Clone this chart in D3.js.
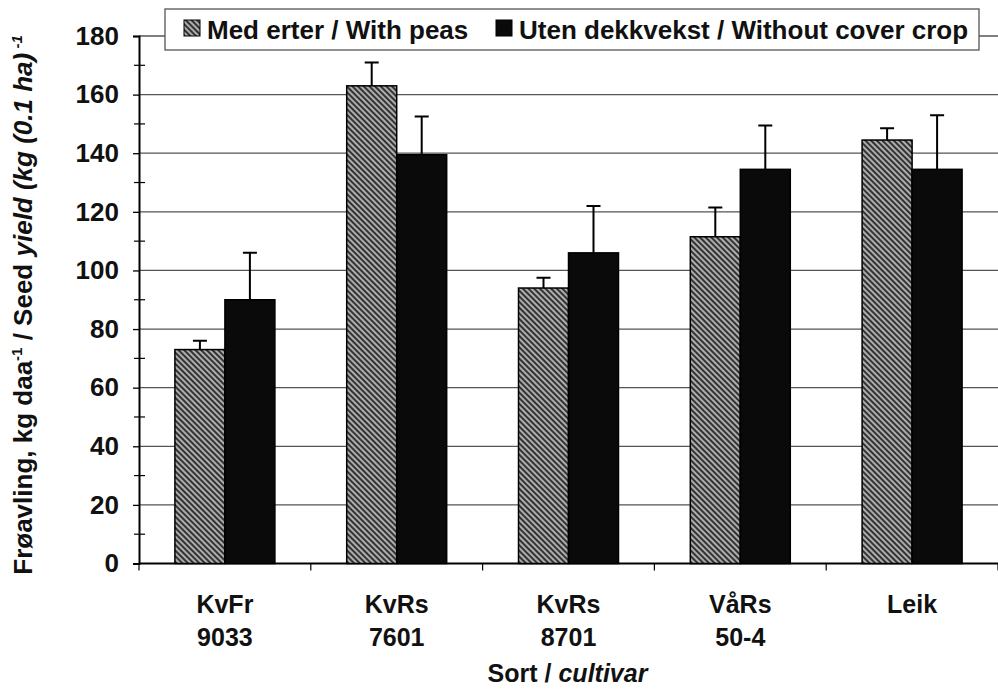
<!DOCTYPE html>
<html>
<head>
<meta charset="utf-8">
<script src="https://cdn.jsdelivr.net/npm/d3@7"></script>
<style>
  body { margin: 0; background: #fff; }
  svg { display: block; font-family: "Liberation Sans", Arial, sans-serif; font-weight: bold; }
</style>
</head>
<body>
<div id="chart"></div>
<script>
// Cultivars (two-line labels)
const cultivars = ["KvFr 9033", "KvRs 7601", "KvRs 8701", "VåRs 50-4", "Leik"];
const labelLine1 = ["KvFr", "KvRs", "KvRs", "VåRs", "Leik"];
const labelLine2 = ["9033", "7601", "8701", "50-4", ""];

const seriesNames = ["Med erter / With peas", "Uten dekkvekst / Without cover crop"];
const withPeas = [73, 163, 94, 111.5, 144.5];
const withPeasErr = [3, 8, 3.5, 10, 4];
const noCover = [90, 139.5, 106, 134.5, 134.5];
const noCoverErr = [16, 13, 16, 15, 18.5];

const yTicks = [0, 20, 40, 60, 80, 100, 120, 140, 160, 180];

const width = 998, height = 690;
const plotLeft = 139, plotRight = 998, plotTop = 36, plotBottom = 563.5;

const data = cultivars.map((c, i) => ({
    cultivar: c,
    values: [
        {key: seriesNames[0], value: withPeas[i], err: withPeasErr[i]},
        {key: seriesNames[1], value: noCover[i], err: noCoverErr[i]}
    ]
}));

const svg = d3.select("#chart").append("svg")
    .attr("width", width)
    .attr("height", height);

// Hatch pattern for "with peas" (lines running top-left to bottom-right)
const defs = svg.append("defs");
const pat = defs.append("pattern")
    .attr("id", "hatch")
    .attr("patternUnits", "userSpaceOnUse")
    .attr("width", 4)
    .attr("height", 4)
    .attr("patternTransform", "rotate(45)");
pat.append("rect").attr("width", 4).attr("height", 4).attr("fill", "#adadad");
pat.append("rect").attr("width", 4).attr("height", 2).attr("fill", "#333");

const x0 = d3.scaleBand()
    .domain(cultivars)
    .range([plotLeft, plotRight])
    .paddingInner(0.418)
    .paddingOuter(0.209);

const x1 = d3.scaleBand()
    .domain(seriesNames)
    .range([0, x0.bandwidth()]);

const y = d3.scaleLinear()
    .domain([0, 180])
    .range([plotBottom, plotTop]);

const fill = d3.scaleOrdinal()
    .domain(seriesNames)
    .range(["url(#hatch)", "#0a0a0a"]);

// Gridlines
svg.append("g")
    .selectAll("line")
    .data(yTicks.filter(d => d > 0))
    .join("line")
    .attr("x1", plotLeft)
    .attr("x2", plotRight)
    .attr("y1", d => y(d))
    .attr("y2", d => y(d))
    .attr("stroke", "#555")
    .attr("stroke-width", 1.3);

// Y axis
const yAxis = svg.append("g")
    .attr("transform", `translate(${plotLeft},0)`)
    .call(d3.axisLeft(y).tickValues(yTicks).tickSize(6).tickPadding(14));
yAxis.select(".domain").attr("stroke", "#000").attr("stroke-width", 2);
yAxis.selectAll(".tick line").attr("stroke", "#000").attr("stroke-width", 1.3);
yAxis.selectAll(".tick text")
    .attr("font-size", 26)
    .attr("font-weight", "bold")
    .attr("font-family", "Liberation Sans, Arial, sans-serif")
    .attr("fill", "#111");

// Minor ticks (cross)
svg.append("g")
    .selectAll("line")
    .data(d3.range(10, 180, 20))
    .join("line")
    .attr("x1", plotLeft - 5)
    .attr("x2", plotLeft + 6)
    .attr("y1", d => y(d))
    .attr("y2", d => y(d))
    .attr("stroke", "#000")
    .attr("stroke-width", 1.2);

// X axis baseline and ticks at category boundaries
svg.append("line")
    .attr("x1", plotLeft).attr("x2", plotRight)
    .attr("y1", y(0)).attr("y2", y(0))
    .attr("stroke", "#000").attr("stroke-width", 2);

const bounds = cultivars.map(c => x0(c) - x0.step() * x0.paddingInner() / 2).concat([plotRight]);
bounds[0] = plotLeft;
svg.append("g")
    .selectAll("line")
    .data(bounds)
    .join("line")
    .attr("x1", d => d).attr("x2", d => d)
    .attr("y1", y(0)).attr("y2", y(0) + 7)
    .attr("stroke", "#000").attr("stroke-width", 1.2);

// Bars
const groups = svg.append("g")
    .selectAll("g")
    .data(data)
    .join("g")
    .attr("transform", d => `translate(${x0(d.cultivar)},0)`);

groups.selectAll("rect")
    .data(d => d.values)
    .join("rect")
    .attr("x", d => x1(d.key))
    .attr("y", d => y(d.value))
    .attr("width", x1.bandwidth())
    .attr("height", d => y(0) - y(d.value))
    .attr("fill", d => fill(d.key))
    .attr("stroke", "#000")
    .attr("stroke-width", 1.5);

// Error bars (upper only)
const capW = 14;
groups.selectAll("path.err")
    .data(d => d.values)
    .join("path")
    .attr("class", "err")
    .attr("d", d => {
        const cx = x1(d.key) + x1.bandwidth() / 2;
        const yt = y(d.value + d.err);
        return `M${cx},${y(d.value)}V${yt}M${cx - capW / 2},${yt}H${cx + capW / 2}`;
    })
    .attr("fill", "none")
    .attr("stroke", "#000")
    .attr("stroke-width", 2);

// Category labels
const lab = svg.append("g")
    .attr("font-size", 25)
    .attr("fill", "#111")
    .attr("text-anchor", "middle");
lab.selectAll("text.l1")
    .data(cultivars)
    .join("text")
    .attr("class", "l1")
    .attr("x", d => x0(d) + x0.bandwidth() / 2)
    .attr("y", 613)
    .text((d, i) => labelLine1[i]);
lab.selectAll("text.l2")
    .data(cultivars)
    .join("text")
    .attr("class", "l2")
    .attr("x", d => x0(d) + x0.bandwidth() / 2)
    .attr("y", 646)
    .text((d, i) => labelLine2[i]);

// X axis title
const xt = svg.append("text")
    .attr("x", (plotLeft + plotRight) / 2 - 1)
    .attr("y", 682)
    .attr("text-anchor", "middle")
    .attr("font-size", 25)
    .attr("fill", "#111");
xt.append("tspan").text("Sort  / ");
xt.append("tspan").attr("font-style", "italic").text("cultivar");

// Y axis title
const ytitle = svg.append("text")
    .attr("transform", "translate(32,305) rotate(-90)")
    .attr("text-anchor", "middle")
    .attr("font-size", 26)
    .attr("fill", "#111");
ytitle.append("tspan").text("Frøavling, kg daa");
ytitle.append("tspan").attr("font-size", 15).attr("dy", -10).text("-1");
ytitle.append("tspan").attr("dy", 10).text(" / Seed ");
ytitle.append("tspan").attr("font-style", "italic").text("yield (kg (0.1 ha)");
ytitle.append("tspan").attr("font-size", 15).attr("dy", -10).attr("font-style", "italic").text(" -1");

// Legend
const legend = svg.append("g");
legend.append("rect")
    .attr("x", 165).attr("y", 9)
    .attr("width", 814).attr("height", 41)
    .attr("fill", "#fff")
    .attr("stroke", "#555")
    .attr("stroke-width", 1.3);

const legX = [184, 496];
const items = legend.selectAll("g")
    .data(seriesNames)
    .join("g")
    .attr("transform", (d, i) => `translate(${legX[i]},0)`);
items.append("rect")
    .attr("x", 0).attr("y", 20)
    .attr("width", 16).attr("height", 16)
    .attr("fill", d => fill(d))
    .attr("stroke", "#000")
    .attr("stroke-width", 1);
items.append("text")
    .attr("x", 23)
    .attr("y", 39)
    .attr("font-size", 26)
    .attr("fill", "#111")
    .text(d => d);
</script>
</body>
</html>
